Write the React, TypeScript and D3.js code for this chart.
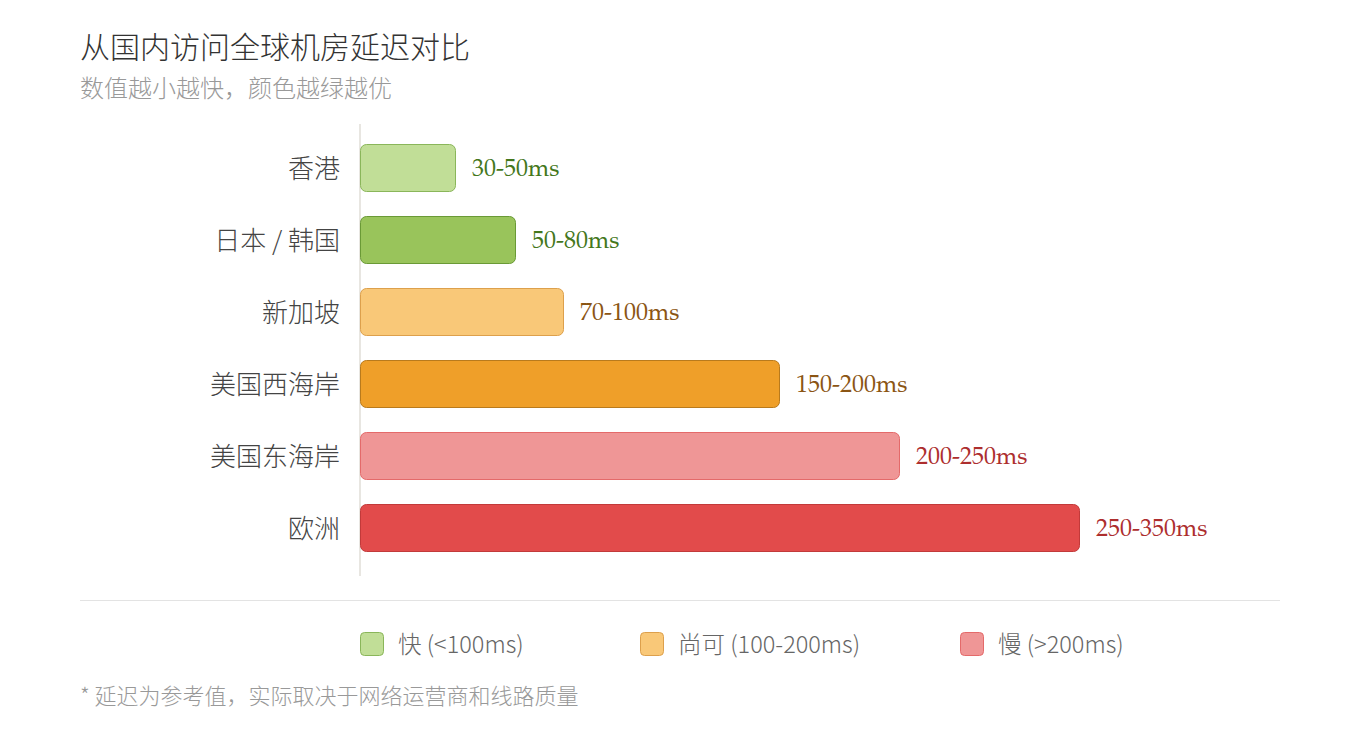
import * as d3 from "d3";

const regions = ["香港", "日本 / 韩国", "新加坡", "美国西海岸", "美国东海岸", "欧洲"];
const latencyLow = [30, 50, 70, 150, 200, 250];
const latencyHigh = [50, 80, 100, 200, 250, 350];
const fills = ["#c1de97", "#99c45b", "#f9c878", "#ef9f29", "#ef9696", "#e24b4b"];
const strokes = ["#8ab65a", "#6a9a36", "#dda04c", "#b97a1c", "#e46a6a", "#c23a3a"];
const labelColors = ["#44771c", "#44771c", "#8b5514", "#8b5514", "#ad2e2e", "#ad2e2e"];

const legendLabels = ["快 (<100ms)", "尚可 (100-200ms)", "慢 (>200ms)"];
const legendFills = ["#c1de97", "#f9c878", "#ef9696"];
const legendStrokes = ["#8ab65a", "#dda04c", "#e46a6a"];

const SANS = "'Noto Sans CJK SC', sans-serif";
const SERIF = "P052, 'URW Palladio L', 'TeX Gyre Pagella', Palatino, 'Liberation Serif', serif";

export default function App() {
  const width = 1360;
  const height = 740;
  const mid = latencyLow.map((v, i) => (v + latencyHigh[i]) / 2);

  const x = d3.scaleLinear().domain([0, 300]).range([360, 1080]);
  const y = d3
    .scaleBand<string>()
    .domain(regions)
    .range([132, 564])
    .paddingInner(1 / 3)
    .paddingOuter(1 / 6);

  const legendX = d3.scaleOrdinal<string, number>().domain(legendLabels).range([360, 640, 960]);

  return (
    <svg
      width={width}
      height={height}
      style={{ position: "absolute", left: 0, top: 0, background: "#fff" }}
    >
      <text x={80} y={58} fill="#333" style={{ fontFamily: SANS, fontSize: 30, fontWeight: 300 }}>
        从国内访问全球机房延迟对比
      </text>
      <text x={80} y={97} fill="#999" style={{ fontFamily: SANS, fontSize: 24, fontWeight: 300 }}>
        数值越小越快，颜色越绿越优
      </text>

      <line x1={x(0)} x2={x(0)} y1={124} y2={576} stroke="#e8e6e1" strokeWidth={2} />

      {regions.map((r, i) => {
        const y0 = y(r) ?? 0;
        const bw = y.bandwidth();
        return (
          <g key={r}>
            <text
              x={340}
              y={y0 + bw / 2 - 2}
              textAnchor="end"
              dominantBaseline="central"
              fill="#444"
              style={{ fontFamily: SANS, fontSize: 26, fontWeight: 300 }}
            >
              {r}
            </text>
            <rect
              x={x(0) + 0.5}
              y={y0 + 0.5}
              width={x(mid[i]) - x(0) - 1}
              height={bw - 1}
              rx={6}
              fill={fills[i]}
              stroke={strokes[i]}
              strokeWidth={1}
            />
            <text
              x={x(mid[i]) + 16}
              y={y0 + bw / 2 + 8}
              fill={labelColors[i]}
              style={{ fontFamily: SERIF, fontSize: 24 }}
            >
              {`${latencyLow[i]}-${latencyHigh[i]}ms`}
            </text>
          </g>
        );
      })}

      <line x1={80} x2={1280} y1={600.5} y2={600.5} stroke="#e3e3e3" strokeWidth={1} />

      {legendLabels.map((l, i) => {
        const lx = legendX(l);
        return (
          <g key={l}>
            <rect
              x={lx + 0.5}
              y={632.5}
              width={23}
              height={23}
              rx={4}
              fill={legendFills[i]}
              stroke={legendStrokes[i]}
            />
            <text
              x={lx + 38}
              y={643}
              dominantBaseline="central"
              fill="#666"
              style={{ fontFamily: SANS, fontSize: 23.5, fontWeight: 300 }}
            >
              {l}
            </text>
          </g>
        );
      })}

      <text x={80} y={704} fill="#999" style={{ fontFamily: SANS, fontSize: 22, fontWeight: 300 }}>
        * 延迟为参考值，实际取决于网络运营商和线路质量
      </text>
    </svg>
  );
}
